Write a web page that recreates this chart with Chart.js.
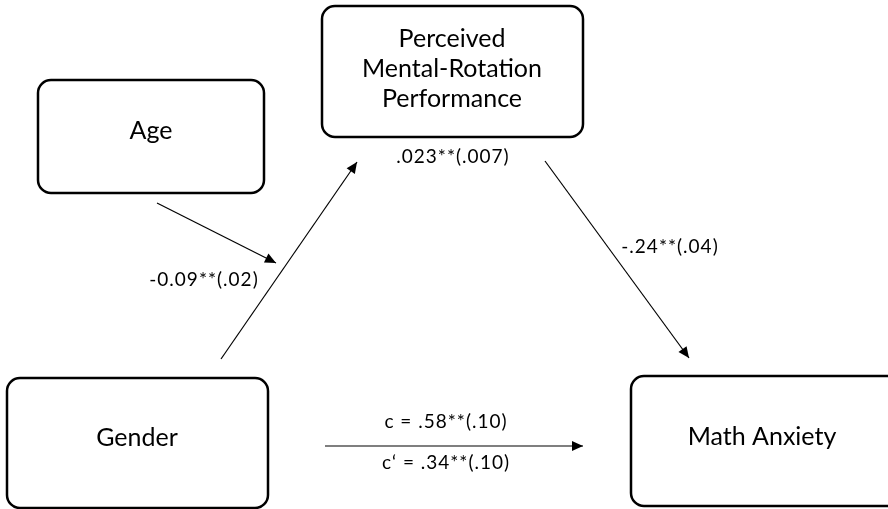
<!DOCTYPE html>
<html>
<head>
<meta charset="utf-8">
<script src="https://cdn.jsdelivr.net/npm/chart.js@4/dist/chart.umd.min.js"></script>
<style>
  html, body { margin: 0; padding: 0; background: #fff; }
  #wrap { width: 888px; height: 509px; position: relative; }
</style>
</head>
<body>
<div id="wrap"><canvas id="pathChart"></canvas></div>
<script>
// variables of the mediation model (boxes: left, top, right, bottom in diagram units)
const nodeNames  = [['Age'], ['Perceived', 'Mental-Rotation', 'Performance'], ['Gender'], ['Math Anxiety']];
const nodeLeft   = [38, 322, 7, 631];
const nodeTop    = [80, 6, 378, 376];
const nodeRight  = [264, 583, 268, 900];
const nodeBottom = [193, 137, 508, 506];
const nodeTextX  = [151, 452, 137, 762];
const nodeTextY  = [[139], [47, 77, 107], [446], [445]];

// paths (start -> arrow tip)
const pathFrom = [[157, 203], [221, 359], [545, 161], [325, 446]];
const pathTo   = [[276, 263], [357, 162], [689, 358], [583, 446]];

// path coefficients
const coefLabels = ['.023**(.007)', '-0.09**(.02)', '-.24**(.04)', 'c = .58**(.10)', 'c\u2018 = .34**(.10)'];
const coefX      = [453, 204, 670, 446, 446];
const coefY      = [163, 286, 253, 428, 469];

const datasets = pathFrom.map((p, i) => ({
  label: 'path' + i,
  data: [{ x: p[0], y: p[1] }, { x: pathTo[i][0], y: pathTo[i][1] }],
  showLine: true,
  borderColor: '#000',
  borderWidth: 1.2,
  pointRadius: 0
}));

function roundBox(ctx, x0, y0, x1, y1, r) {
  ctx.beginPath();
  ctx.moveTo(x0 + r, y0);
  ctx.lineTo(x1 - r, y0);
  ctx.arcTo(x1, y0, x1, y0 + r, r);
  ctx.lineTo(x1, y1 - r);
  ctx.arcTo(x1, y1, x1 - r, y1, r);
  ctx.lineTo(x0 + r, y1);
  ctx.arcTo(x0, y1, x0, y1 - r, r);
  ctx.lineTo(x0, y0 + r);
  ctx.arcTo(x0, y0, x0 + r, y0, r);
  ctx.closePath();
}

const diagramPlugin = {
  id: 'diagram',
  afterDatasetsDraw(chart) {
    const { ctx, scales: { x, y } } = chart;
    ctx.save();
    // boxes
    ctx.strokeStyle = '#000';
    ctx.lineWidth = 2.5;
    nodeNames.forEach((lines, i) => {
      roundBox(ctx, x.getPixelForValue(nodeLeft[i]), y.getPixelForValue(nodeTop[i]),
               x.getPixelForValue(nodeRight[i]), y.getPixelForValue(nodeBottom[i]), 13);
      ctx.stroke();
      ctx.fillStyle = '#000';
      ctx.font = '25px Lato';
      ctx.textAlign = 'center';
      ctx.textBaseline = 'alphabetic';
      lines.forEach((t, j) => {
        ctx.fillText(t, x.getPixelForValue(nodeTextX[i]), y.getPixelForValue(nodeTextY[i][j]));
      });
    });
    // arrow heads
    pathTo.forEach((tip, i) => {
      const tx = x.getPixelForValue(tip[0]), ty = y.getPixelForValue(tip[1]);
      const fx = x.getPixelForValue(pathFrom[i][0]), fy = y.getPixelForValue(pathFrom[i][1]);
      const a = Math.atan2(ty - fy, tx - fx);
      const len = 11, half = 5;
      ctx.beginPath();
      ctx.moveTo(tx, ty);
      ctx.lineTo(tx - len * Math.cos(a) + half * Math.sin(a), ty - len * Math.sin(a) - half * Math.cos(a));
      ctx.lineTo(tx - len * Math.cos(a) - half * Math.sin(a), ty - len * Math.sin(a) + half * Math.cos(a));
      ctx.closePath();
      ctx.fill();
    });
    // coefficients
    ctx.font = '19px Lato';
    ctx.letterSpacing = '1px';
    coefLabels.forEach((t, i) => {
      ctx.fillText(t, x.getPixelForValue(coefX[i]), y.getPixelForValue(coefY[i]));
    });
    ctx.restore();
  }
};

new Chart(document.getElementById('pathChart'), {
  type: 'scatter',
  data: { datasets },
  options: {
    responsive: true,
    maintainAspectRatio: false,
    animation: false,
    events: [],
    layout: { padding: 0 },
    scales: {
      x: { type: 'linear', min: 0, max: 888, display: false },
      y: { type: 'linear', min: 0, max: 509, reverse: true, display: false }
    },
    plugins: { legend: { display: false }, tooltip: { enabled: false } }
  },
  plugins: [diagramPlugin]
});
</script>
</body>
</html>
